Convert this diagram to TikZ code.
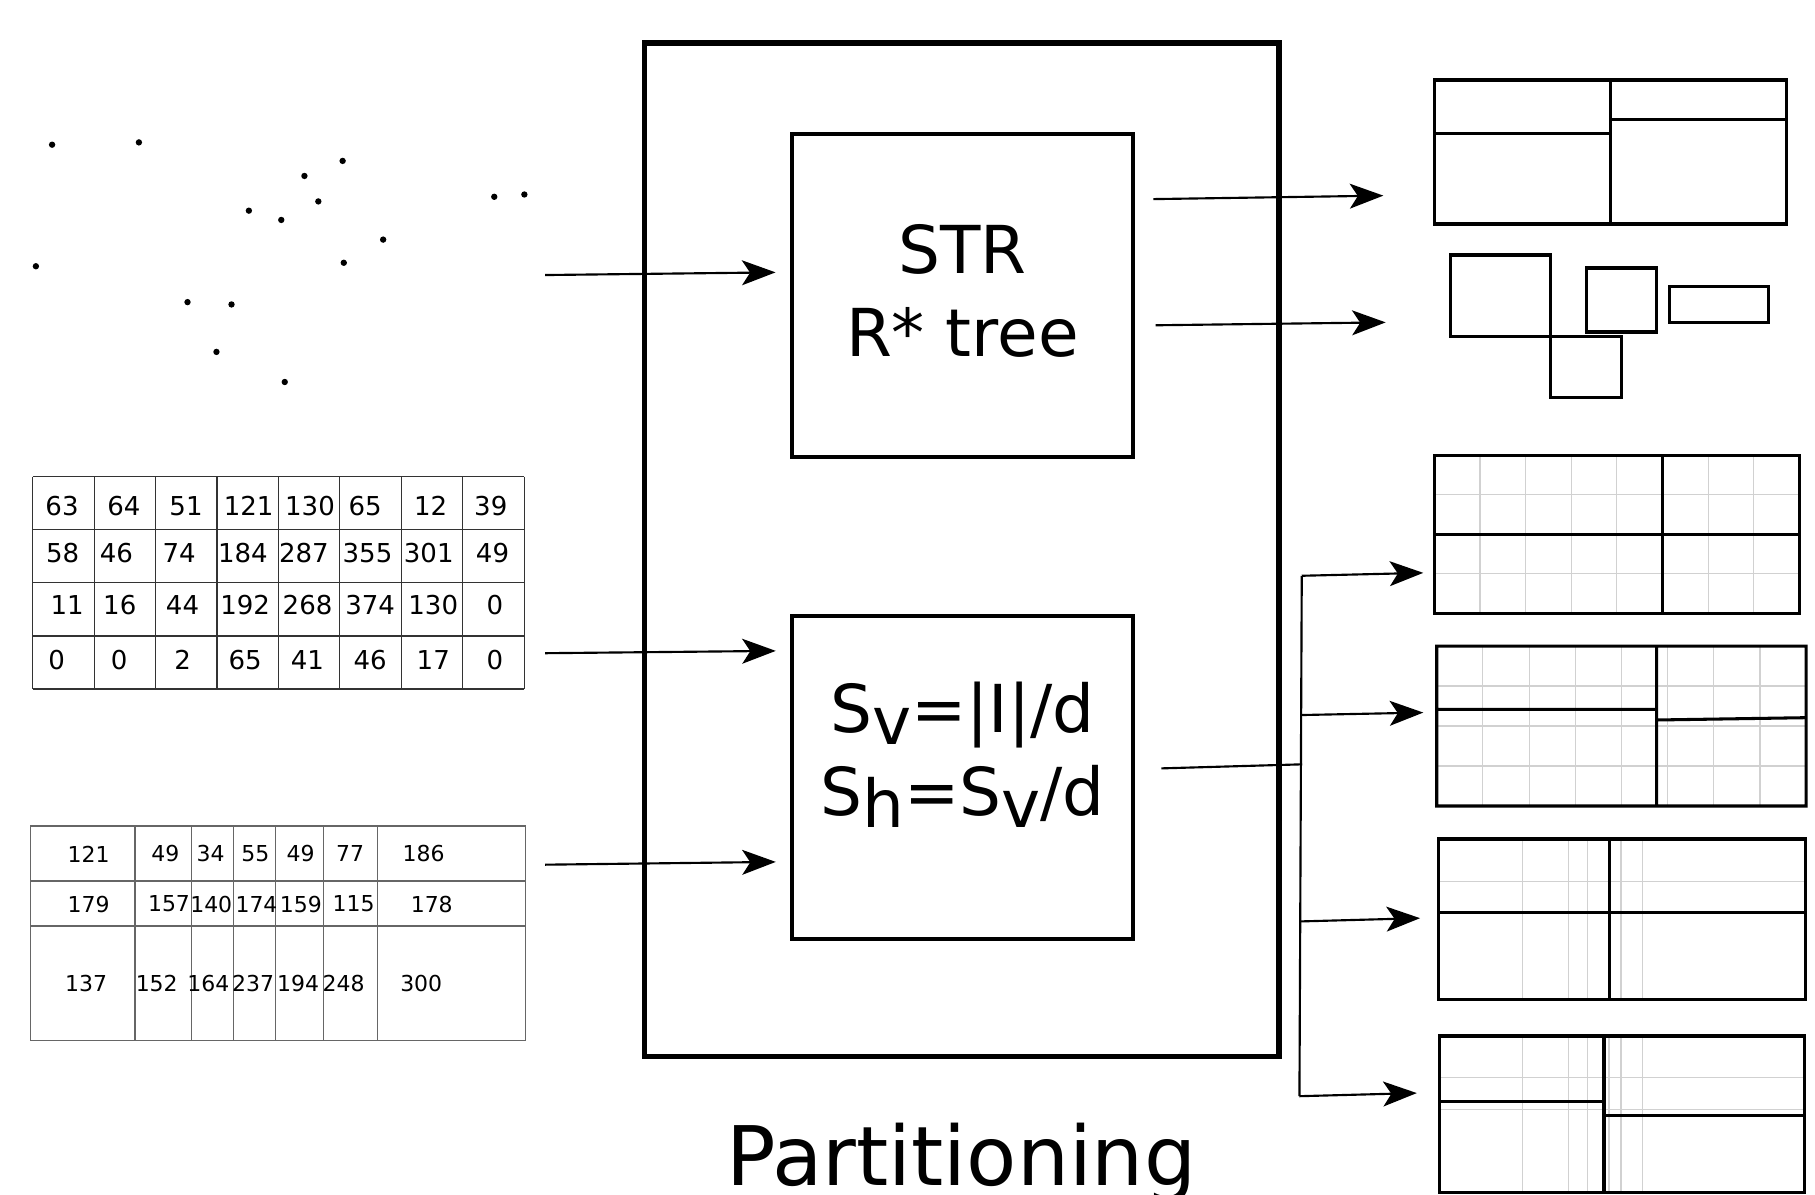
\documentclass[tikz,border=0pt]{standalone}
\usepackage{fontspec}
\setmainfont{DejaVu Sans}
\usetikzlibrary{arrows.meta}
\newcommand\lowsub[1]{\raisebox{-0.19em}{#1}}

\begin{document}
\begin{tikzpicture}[x=0.02cm, y=-0.02cm,
    arr/.style={-{Stealth[length=5.8mm, width=4.3mm, inset=1.4mm]}, line width=1.05pt},
    link/.style={line width=1.05pt},
    box/.style={draw, line width=2pt, minimum width=5.9cm, minimum height=5.58cm, inner sep=0pt},
    big/.style={font=\fontsize{32.5pt}{41pt}\selectfont, align=center, inner sep=0pt},
    tblA/.style={line width=0.6pt, black!80},
    tblB/.style={line width=0.6pt, black!60},
    cellA/.style={font=\fontsize{12.8pt}{14pt}\selectfont, inner sep=0pt},
    cellB/.style={font=\fontsize{10.8pt}{12pt}\selectfont, inner sep=0pt},
    part/.style={line width=1.5pt},
    faint/.style={line width=0.55pt, black!18}]

  \useasboundingbox (0,0) rectangle (1568,1032);

  % input points
  \foreach \x/\y in {45/125, 120/123, 263/152, 296/139, 215/182, 243/190, 275/174, 331/207,
                     31/230, 297/227, 162/261, 200/263, 187/304, 246/330, 427/170, 453/168}
    \fill (\x,\y) circle[radius=0.055cm];

  % histogram table
  \foreach \i in {0,...,8}
    \draw[tblA] (28.3+53.06*\i,411.8) -- (28.3+53.06*\i,595.3);
  \foreach \j in {0,...,4}
    \draw[tblA] (28.3,411.8+45.875*\j) -- (452.8,411.8+45.875*\j);
  \foreach \y/\row [count=\r] in {437/{53.6/63,107.1/64,160.7/51,214.8/121,267.8/130,315.4/65,372/12,424/39},
      478/{54.2/58,100.6/46,154.7/74,209.8/184,262.5/287,317.5/355,370.4/301,425.5/49},
      522.5/{58/11,103.5/16,157.7/44,211.8/192,265.7/268,319.8/374,374.3/130,427.6/0},
      570/{49/0,103/0,157.7/2,211.8/65,265.6/41,319.8/46,374.3/17,427.6/0}}
    \foreach \x/\v [count=\c] in \row
      \node[cellA] (h\r-\c) at (\x,\y) {\v};

  % column sums table
  \foreach \x in {26.2,116.6,165.4,201.7,237.7,279.7,326,454.3}
    \draw[tblB] (\x,713.6) -- (\x,899);
  \foreach \y in {713.6,761,800,899}
    \draw[tblB] (26.2,\y) -- (454.3,\y);
  \foreach \y/\row [count=\r] in {737.7/{76.5/121,142.8/49,182/34,220.7/55,259.7/49,302.5/77,366/186},
      781/{76.6/179,146/157,182.5/140,221.6/174,260/159,305.5/115,373/178},
      849.5/{74.4/137,135.4/152,180/164,218.7/237,257.6/194,296.9/248,363.9/300}}
    \foreach \x/\v [count=\c] in \row
      \node[cellB] (s\r-\c) at (\x,\y) {\v};

  % partitioning block
  \node[draw, line width=2.6pt, minimum width=10.96cm, minimum height=17.52cm] (frame) at (831,475) {};
  \node[box] (strbox) at (831.5,255.5) {};
  \node[big, yshift=0.08cm] (strtxt) at (strbox.center) {STR\\R* tree};
  \node[box] (gridbox) at (831.5,672) {};
  \node[big, yshift=0.4cm] (gridtxt) at (gridbox.center)
    {S\lowsub{v}=|I|/d\\S\lowsub{h}=S\lowsub{v}/d};
  \node[font=\fontsize{40.4pt}{48pt}\selectfont, anchor=base, inner sep=0pt] (partlbl)
    at (830.5,1024) {Partitioning};

  % inputs
  \coordinate (pts-out) at (471,237.6);   \coordinate (strbox-in) at (670,235.3);
  \coordinate (hist-out) at (471,564.3);  \coordinate (gridbox-in1) at (670.2,562.3);
  \coordinate (sums-out) at (471,747);    \coordinate (gridbox-in2) at (670.2,744.6);
  \draw[arr] (pts-out) -- (strbox-in);
  \draw[arr] (hist-out) -- (gridbox-in1);
  \draw[arr] (sums-out) -- (gridbox-in2);

  % outputs of STR
  \coordinate (strbox-out1) at (996.4,172);  \coordinate (leaves-in) at (1195.1,169);
  \coordinate (strbox-out2) at (998.4,281);  \coordinate (mbr-in) at (1197.1,278.5);
  \draw[arr] (strbox-out1) -- (leaves-in);
  \draw[arr] (strbox-out2) -- (mbr-in);

  % outputs of grid
  \coordinate (gridbox-out) at (1003.3,663.8);
  \coordinate (fork) at (1125,660.3);
  \coordinate (fork-top) at (1124.6,497.4);
  \coordinate (fork-bot) at (1122.6,947);
  \draw[link] (gridbox-out) -- (fork);
  \draw[link] (fork-top) -- (fork-bot);
  \coordinate (b2) at (1125,617.7);
  \coordinate (b3) at (1124,796);
  \draw[arr] (fork-top) -- (1229.6,494.9);
  \draw[arr] (b2) -- (1229.6,615.6);
  \draw[arr] (b3) -- (1226.8,793.2);
  \draw[arr] (fork-bot) -- (1224,944.3);

  % R-tree leaves
  \draw[part] (1238.9,69.1) rectangle (1543.6,193.5)
    (1391,69.1) -- (1391,193.5) (1238.9,115.2) -- (1391,115.2) (1391,103) -- (1543.6,103);
  \draw[part] (1253.3,220.3) rectangle (1339.4,290.5) (1339.4,290.5) rectangle (1400.7,343.6)
    (1370.5,231.5) rectangle (1431.2,286.8) (1442.5,247.4) rectangle (1528,278.8);

  % regular grids
  \foreach \l/\t/\rr/\b in {1239.2/393.1/1554.5/529.9, 1241.2/558.1/1560.3/696.3} {
    \foreach \i in {1,...,7}
      \draw[faint] ({\l+\i*(\rr-\l)/8},\t) -- ({\l+\i*(\rr-\l)/8},\b);
    \foreach \j in {1,2,3}
      \draw[faint] (\l,{\t+\j*(\b-\t)/4}) -- (\rr,{\t+\j*(\b-\t)/4});
  }
  \draw[part] (1239.2,393.1) rectangle (1554.5,529.9)
    (1436.3,393.1) -- (1436.3,529.9) (1239.2,461.5) -- (1554.5,461.5);
  \draw[part] (1241.2,558.1) rectangle (1560.3,696.3)
    (1431.2,558.1) -- (1431.2,696.3) (1241.2,612.8) -- (1431.2,612.8) (1431.2,622) -- (1560.3,620);

  % irregular grids
  \foreach \x in {1315.5,1355.2,1371.6,1400.4,1418.8}
    \draw[faint] (\x,724.8) -- (\x,863.3);
  \draw[faint] (1242.6,761.4) -- (1559.4,761.4);
  \foreach \x in {1315.5,1355.2,1371.6,1390,1400.4,1418.8}
    \draw[faint] (\x,895) -- (\x,1030);
  \foreach \y in {930.7,958.4}
    \draw[faint] (1243.5,\y) -- (1558.5,\y);
  \draw[part] (1242.6,724.8) rectangle (1559.4,863.3)
    (1390.1,724.8) -- (1390.1,863.3) (1242.6,788.5) -- (1559.4,788.5);
  \draw[part] (1243.5,895) rectangle (1558.5,1030)
    (1385.7,895) -- (1385.7,1030) (1243.5,951.8) -- (1385.7,951.8) (1385.7,963.3) -- (1558.5,963.3);
\end{tikzpicture}
\end{document}
